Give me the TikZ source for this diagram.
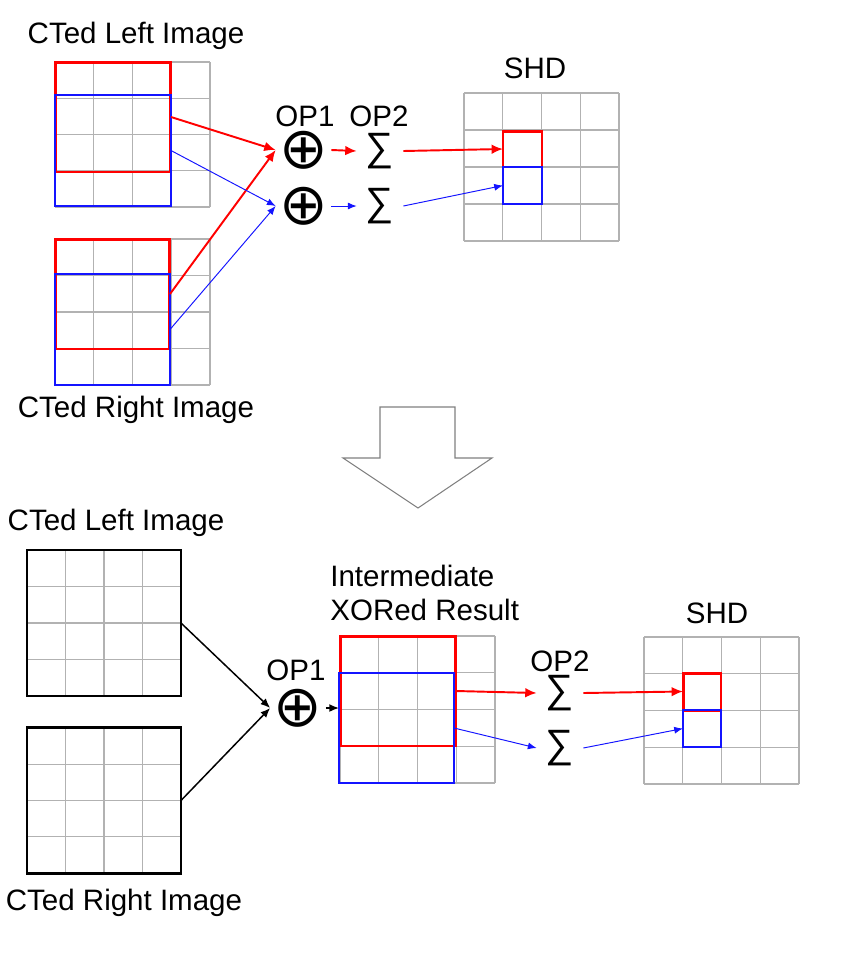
\documentclass[tikz,border=0pt]{standalone}
\usepackage{fontspec}
\setmainfont{Liberation Sans}
\newfontfamily\symfont{DejaVu Sans}
\usepackage{tikz}
\usetikzlibrary{arrows.meta}
\definecolor{gridgray}{RGB}{178,178,178}
\definecolor{pureblue}{RGB}{20,20,255}
\newcommand{\cellgrid}[4]{%
  \foreach \i in {0,...,4} {\draw[gridline] (#1+\i*#3,#2) -- (#1+\i*#3,#2+4*#4);}
  \foreach \j in {0,...,4} {\draw[gridline] (#1,#2+\j*#4) -- (#1+4*#3,#2+\j*#4);}
}
\tikzset{
  gridline/.style={gridgray,line width=0.8pt},
  lbl/.style={font=\fontsize{16.8}{19.8}\selectfont,inner sep=0pt},
  xorop/.style={font=\symfont\fontsize{33}{33}\selectfont,inner sep=0pt,minimum width=1.1cm},
  sumop/.style={font=\fontsize{22.5}{22.5}\selectfont,inner sep=0pt,minimum width=0.92cm},
  redbox/.style={draw=red,line width=1.7pt,inner sep=0pt,outer sep=0pt},
  bluebox/.style={draw=pureblue,line width=0.7pt,inner sep=0pt,outer sep=0pt},
  imgbox/.style={draw=black,line width=1.4pt,inner sep=0pt,outer sep=0pt,minimum width=3.08cm,minimum height=2.92cm},
  redarr/.style={red,line width=1.1pt,-{Latex[length=6.5pt,width=5.5pt]}},
  bluearr/.style={pureblue,line width=0.55pt,-{Latex[length=5pt,width=4pt]}},
  blackarr/.style={black,line width=0.85pt,-{Latex[length=5.5pt,width=4.5pt]}}
}
\begin{document}
\begin{tikzpicture}[x=0.02cm,y=-0.02cm]
	\useasboundingbox (0,0) rectangle (850,965);
	\cellgrid{55}{62}{38.75}{36.25}
	\cellgrid{55}{239}{38.75}{36.5}
	\cellgrid{464}{93}{38.75}{37}
	\node[lbl] (ltitle) at (136,36) {CTed Left Image};
	\node[lbl] (rtitle) at (136,410) {CTed Right Image};
	\node[lbl] (op1) at (305,116) {OP1};
	\node[lbl] (op2) at (379,116) {OP2};
	\node[lbl] (shdtitle) at (535,68) {SHD};
	\node[redbox,minimum width=2.32cm,minimum height=2.2cm] (lred) at (113,117) {};
	\node[bluebox,minimum width=2.32cm,minimum height=2.22cm] (lblue) at (113,150.5) {};
	\node[redbox,minimum width=2.3cm,minimum height=2.2cm] (rred) at (112.5,294) {};
	\node[bluebox,minimum width=2.3cm,minimum height=2.22cm] (rblue) at (112.5,329.5) {};
	\node[redbox,minimum width=0.78cm,minimum height=0.72cm] (sred) at (522.5,149) {};
	\node[bluebox,minimum width=0.78cm,minimum height=0.74cm] (sblue) at (522.5,185.5) {};
	\node[xorop] (xa) at (303.5,150) {⊕};
	\node[xorop] (xb) at (303.5,206) {⊕};
	\node[sumop] (sa) at (380,151) {∑};
	\node[sumop] (sb) at (380,206) {∑};
	\draw[redarr] (lred.east) -- (xa.west);
	\draw[redarr] (rred.east) -- (xa.west);
	\draw[bluearr] (lblue.east) -- (xb.west);
	\draw[bluearr] (rblue.east) -- (xb.west);
	\draw[redarr] (xa.east) -- (sa.west);
	\draw[bluearr] (xb.east) -- (sb.west);
	\draw[redarr] (sa.east) -- (sred.west);
	\draw[bluearr] (sb.east) -- (sblue.west);
	\draw[gray,line width=0.6pt] (380,407) -- (455,407) -- (455,458) -- (492,458) -- (418,508) -- (343,458) -- (380,458) -- cycle;
	\cellgrid{27}{550}{38.5}{36.5}
	\cellgrid{27}{728}{38.5}{36.25}
	\cellgrid{340}{636}{38.75}{36.75}
	\cellgrid{644}{637}{38.75}{36.75}
	\node[imgbox] (limg) at (104,623) {};
	\node[imgbox] (rimg) at (104,800.5) {};
	\node[lbl] (ltitleb) at (116,523) {CTed Left Image};
	\node[lbl] (rtitleb) at (124,903) {CTed Right Image};
	\node[lbl,anchor=west,align=left] (interlbl) at (330,593) {Intermediate\\XORed Result};
	\node[lbl] (op1b) at (296,670) {OP1};
	\node[lbl] (op2b) at (560,661) {OP2};
	\node[lbl] (shdtitleb) at (717,613) {SHD};
	\node[redbox,minimum width=2.32cm,minimum height=2.2cm] (ired) at (398,691) {};
	\node[bluebox,minimum width=2.3cm,minimum height=2.2cm] (iblue) at (396.5,728) {};
	\node[redbox,minimum width=0.76cm,minimum height=0.74cm] (sredb) at (702,691.5) {};
	\node[bluebox,minimum width=0.76cm,minimum height=0.74cm] (sblueb) at (702,728.5) {};
	\node[xorop] (xc) at (298,708) {⊕};
	\node[sumop] (sc) at (560,693) {∑};
	\node[sumop] (sd) at (560,748) {∑};
	\draw[blackarr] (limg.east) -- (xc.west);
	\draw[blackarr] (rimg.east) -- (xc.west);
	\draw[blackarr] (xc.east) -- (iblue.west |- xc.east);
	\draw[redarr] (ired.east) -- (sc.west);
	\draw[bluearr] (iblue.east) -- (sd.west);
	\draw[redarr] (sc.east) -- (sredb.west);
	\draw[bluearr] (sd.east) -- (sblueb.west);
\end{tikzpicture}
\end{document}
